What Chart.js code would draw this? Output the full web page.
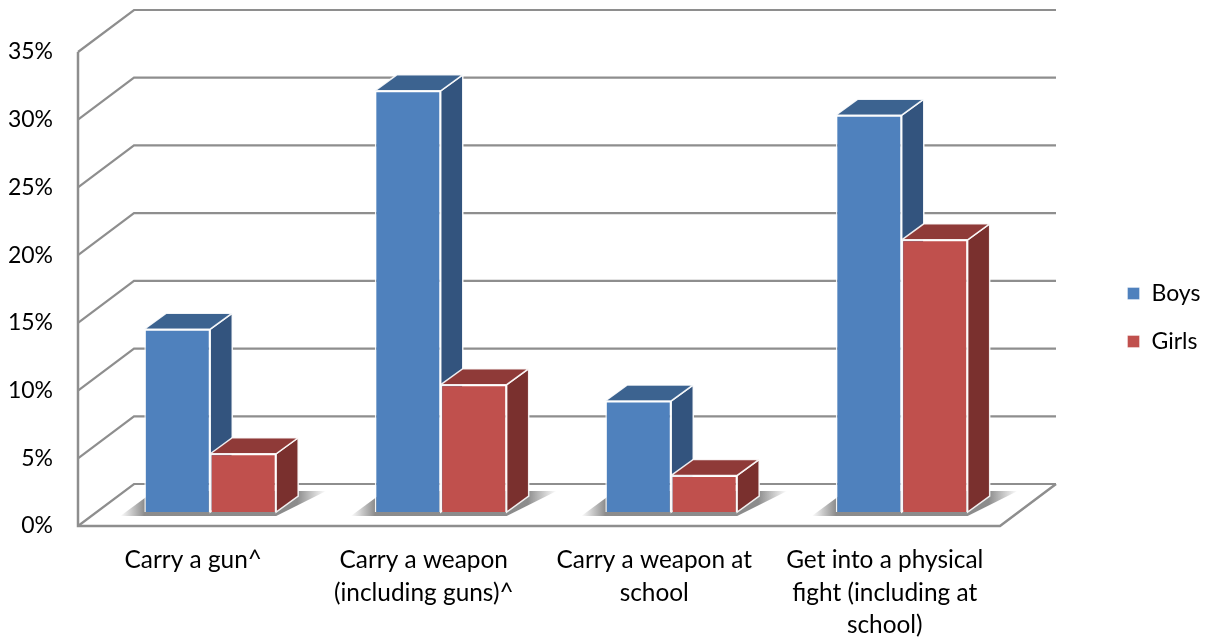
<!DOCTYPE html>
<html>
<head>
<meta charset="utf-8">
<script src="https://cdn.jsdelivr.net/npm/chart.js@4"></script>
<style>
  html, body { margin: 0; padding: 0; background: #fff; }
  canvas { display: block; }
</style>
</head>
<body>
<canvas id="chart" width="1207" height="637"></canvas>
<script>
const categories = [
  "Carry a gun^",
  ["Carry a weapon", "(including guns)^"],
  ["Carry a weapon at", "school"],
  ["Get into a physical", "fight (including at", "school)"]
];
const boys = [13.5, 31.1, 8.2, 29.3];
const girls = [4.3, 9.4, 2.7, 20.1];
const seriesNames = ["Boys", "Girls"];

const frontColors = ["#4F81BD", "#C0504D"];
const sideColors = ["#33547E", "#7A302E"];
const topColors = ["#3C6390", "#8F3A38"];

// how far the bars and the walls are pushed back to fake the 3D look
const wallDx = 56, wallDy = 42;
const barDx = 22, barDy = 16;
const barShiftX = 17, barShiftY = 14;
const gridColor = "#8E8E8E";
const fontName = "Lato";

function face(ctx, pts, fill) {
  ctx.beginPath();
  pts.forEach((p, i) => i ? ctx.lineTo(p[0], p[1]) : ctx.moveTo(p[0], p[1]));
  ctx.closePath();
  ctx.fillStyle = fill;
  ctx.fill();
  ctx.strokeStyle = "rgba(255,255,255,0.9)";
  ctx.lineWidth = 1.5;
  ctx.stroke();
}

const walls3d = {
  id: "walls3d",
  beforeDatasetsDraw(chart) {
    const { ctx, chartArea: a, scales: { y } } = chart;
    ctx.save();
    ctx.strokeStyle = gridColor;
    ctx.lineWidth = 2.2;
    ctx.lineJoin = "miter";

    // grid lines running up the side wall and along the back wall
    y.ticks.forEach(t => {
      const py = y.getPixelForValue(t.value);
      ctx.beginPath();
      ctx.moveTo(a.left, py);
      ctx.lineTo(a.left + wallDx, py - wallDy);
      ctx.lineTo(a.right + wallDx, py - wallDy);
      ctx.stroke();
    });

    // floor and the front axis
    const y0 = y.getPixelForValue(0);
    ctx.lineWidth = 2.5;
    ctx.beginPath();
    ctx.moveTo(a.left, y.getPixelForValue(35));
    ctx.lineTo(a.left, y0);
    ctx.lineTo(a.right, y0);
    ctx.lineTo(a.right + wallDx, y0 - wallDy);
    ctx.stroke();

    // soft shadow on the floor below every pair of bars
    const b0 = chart.getDatasetMeta(0).data, b1 = chart.getDatasetMeta(1).data;
    b0.forEach((bar, i) => {
      const l = bar.x - bar.width / 2 + barShiftX;
      const r = b1[i].x + b1[i].width / 2 + barShiftX;
      const bot = y0 - barShiftY + 4;
      const g = ctx.createLinearGradient(l - 24, 0, r + 50, 0);
      const w = r + 74 - l;
      g.addColorStop(0, "rgba(120,120,120,0)");
      g.addColorStop(24 / w, "rgba(120,120,120,0.85)");
      g.addColorStop((r + 21 - l + 24) / w, "rgba(120,120,120,0.85)");
      g.addColorStop(1, "rgba(120,120,120,0)");
      ctx.beginPath();
      ctx.moveTo(l - 24, bot);
      ctx.lineTo(r, bot);
      ctx.lineTo(r + 50, bot - 25);
      ctx.lineTo(l + 10, bot - 25);
      ctx.closePath();
      ctx.fillStyle = g;
      ctx.fill();
    });

    // side and top faces, boys first so the girls sit in front of them
    [0, 1].forEach(d => {
      chart.getDatasetMeta(d).data.forEach(bar => {
        const l = bar.x - bar.width / 2 + barShiftX;
        const r = bar.x + bar.width / 2 + barShiftX;
        const t = bar.y - barShiftY;
        const b = bar.base - barShiftY;
        face(ctx, [[r, t], [r + barDx, t - barDy], [r + barDx, b - barDy], [r, b]], sideColors[d]);
        face(ctx, [[l, t], [l + barDx, t - barDy], [r + barDx, t - barDy], [r, t]], topColors[d]);
      });
    });
    ctx.restore();
  },
  // front faces come from Chart.js itself, moved to the middle of the floor
  beforeDatasetDraw(chart) {
    chart.ctx.save();
    chart.ctx.translate(barShiftX, -barShiftY);
  },
  afterDatasetDraw(chart) {
    chart.ctx.restore();
  },
  beforeDraw(chart) {
    const lg = chart.legend;
    const h = lg.bottom - lg.top;
    lg.left = 1102;
    lg.right = lg.left + lg.width;
    lg.top = 257;
    lg.bottom = lg.top + Math.max(h, 200);
  }
};

new Chart(document.getElementById("chart"), {
  type: "bar",
  data: {
    labels: categories,
    datasets: [
      { label: seriesNames[0], data: boys, backgroundColor: frontColors[0] },
      { label: seriesNames[1], data: girls, backgroundColor: frontColors[1] }
    ]
  },
  options: {
    responsive: false,
    animation: false,
    layout: { padding: { top: 52, right: 207 } },
    datasets: {
      bar: {
        barPercentage: 1,
        categoryPercentage: 0.572,
        borderColor: "rgba(255,255,255,0.9)",
        borderWidth: 1.5
      }
    },
    scales: {
      x: {
        grid: { display: false },
        border: { display: false },
        afterFit: s => { s.height = 111; },
        ticks: {
          color: "#000",
          font: { family: fontName, size: 24.4, lineHeight: 1.33 },
          padding: 10,
          maxRotation: 0,
          autoSkip: false
        }
      },
      y: {
        min: 0,
        max: 35,
        grid: { display: false },
        border: { display: false },
        afterFit: s => { s.width = 78; },
        ticks: {
          stepSize: 5,
          color: "#000",
          padding: 17,
          font: { family: fontName, size: 23 },
          callback: v => v + "%"
        }
      }
    },
    plugins: {
      tooltip: { enabled: false },
      legend: {
        position: "chartArea",
        align: "start",
        labels: {
          boxWidth: 13,
          boxHeight: 13,
          padding: 25,
          color: "#000",
          font: { family: fontName, size: 23 }
        }
      }
    }
  },
  plugins: [walls3d]
});
</script>
</body>
</html>
